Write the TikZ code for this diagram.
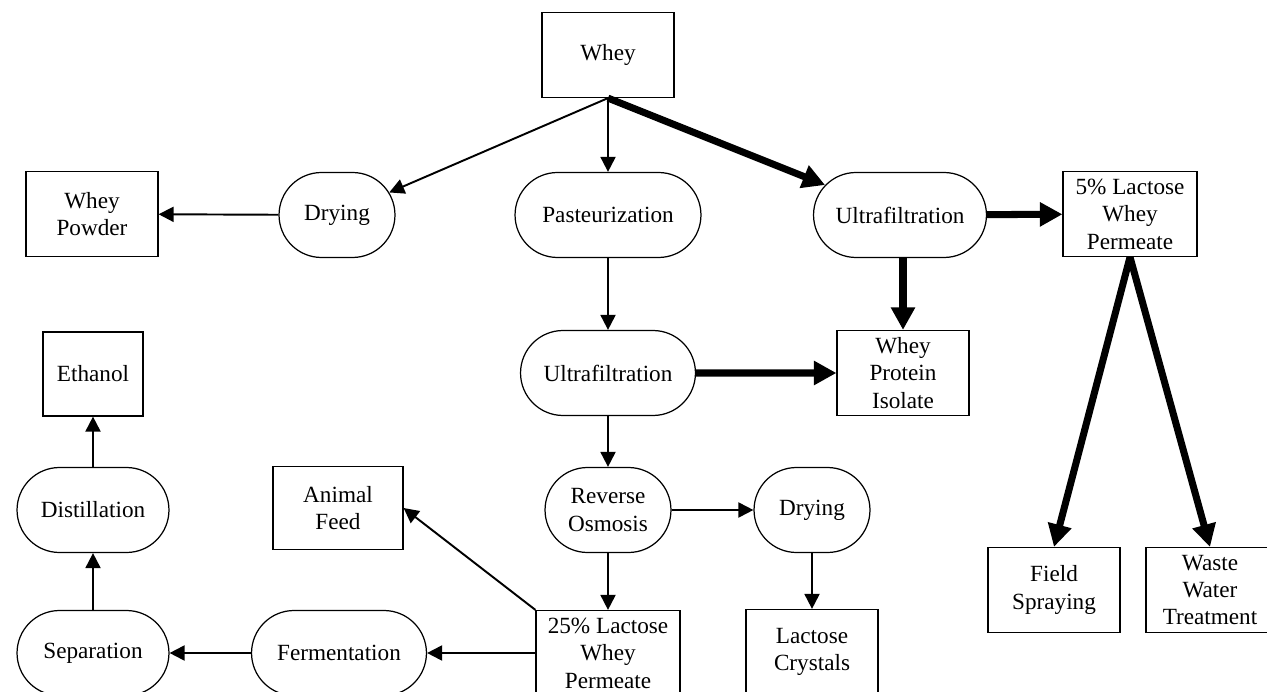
\documentclass[tikz,border=0pt]{standalone}
\usepackage{fontspec}
\setmainfont{Liberation Serif}
\usetikzlibrary{shapes.misc,arrows.meta}

\begin{document}
\begin{tikzpicture}[x=0.02cm, y=-0.02cm, font=\fontsize{13.2}{15.6}\selectfont,
  prod/.style={draw, line width=0.7pt, rectangle, minimum width=2.64cm,
    minimum height=1.7cm, align=center, inner sep=0.5pt},
  proc/.style={draw, line width=0.7pt, rounded rectangle,
    minimum height=1.7cm, align=center, inner sep=2pt},
  flow/.style={-{Triangle[length=0.3cm,width=0.3cm]}, line width=1.1pt},
  bigflow/.style={-{Triangle[length=0.45cm,width=0.46cm]}, line width=4pt}]
  \useasboundingbox (0,0) rectangle (1267,692);

  % Top row
  \node[prod] (whey) at (608,55) {Whey};
  \node[proc, minimum width=2.46cm] (dryA) at (337,215) {Drying};
  \node[prod] (powder) at (92,214) {Whey\\Powder};
  \node[proc, minimum width=3.86cm] (past) at (608,215) {Pasteurization};
  \node[proc, minimum width=3.6cm] (ufA) at (900,215) {Ultrafiltration};
  \node[prod, minimum width=2.68cm] (perm5) at (1130,214) {5\% Lactose\\Whey\\Permeate};

  % Middle rows
  \node[prod, minimum width=2.0cm, minimum height=1.68cm] (ethanol) at (93,374) {Ethanol};
  \node[proc, minimum width=3.64cm] (ufB) at (608,373) {Ultrafiltration};
  \node[prod] (wpi) at (903,373) {Whey\\Protein\\Isolate};
  \node[proc, minimum width=3.18cm] (distil) at (93,510) {Distillation};
  \node[prod, minimum width=2.6cm, minimum height=1.66cm] (feed) at (338,508) {Animal\\Feed};
  \node[proc, minimum width=2.66cm] (ro) at (608,510) {Reverse\\Osmosis};
  \node[proc, minimum width=2.46cm] (dryB) at (812,510) {Drying};

  % Bottom row
  \node[proc, minimum width=3.18cm] (separ) at (93,653) {Separation};
  \node[proc, minimum width=3.64cm] (ferment) at (339,653) {Fermentation};
  \node[prod, minimum width=2.88cm] (perm25) at (608,653) {25\% Lactose\\Whey\\Permeate};
  \node[prod] (crystals) at (812,652) {Lactose\\Crystals};
  \node[prod] (field) at (1054,590) {Field\\Spraying};
  \node[prod, minimum width=2.56cm] (waste) at (1210,590) {Waste\\Water\\Treatment};

  % Thin arrows
  \draw[flow] (whey.south) -- (dryA);
  \foreach \from/\to in {whey/past, dryA/powder, past/ufB, ufB/ro, ro/dryB,
    dryB/crystals, ro/perm25, perm25/ferment, ferment/separ, separ/distil,
    distil/ethanol}
    \draw[flow] (\from) -- (\to);
  \draw[flow] (perm25.north west) -- (feed.east);

  % Thick arrows
  \draw[bigflow] (whey.south) -- (ufA);
  \draw[bigflow] (ufA) -- (perm5);
  \draw[bigflow] (ufA.south -| wpi) -- (wpi);
  \draw[bigflow] (ufB) -- (wpi);
  \draw[bigflow] (perm5.south) -- (field.north);
  \draw[bigflow] (perm5.south) -- (waste.north);
\end{tikzpicture}
\end{document}
